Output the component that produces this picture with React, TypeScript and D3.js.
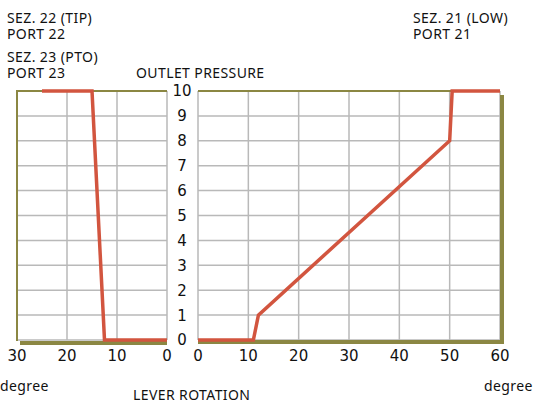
import React from 'react';
import * as d3 from 'd3';

// lever rotation (degree) vs outlet pressure
const leftDegrees = [25, 15, 12.5, 0];
const leftPressure = [10, 10, 0, 0];
const rightDegrees = [0, 11, 12, 50, 50.5, 60];
const rightPressure = [0, 0, 1, 8, 10, 10];

const leftTicks = [30, 20, 10, 0];
const rightTicks = [0, 10, 20, 30, 40, 50, 60];
const pressureTicks = [0, 1, 2, 3, 4, 5, 6, 7, 8, 9, 10];

const W = 537;
const H = 404;

const OLIVE = '#8b8743';
const RED = '#d2553f';
const GRID = '#b9b9b9';
const TEXT_FONT = '"Noto Sans", sans-serif';
const NUM_FONT = '"DejaVu Sans", sans-serif';

export default function App() {
  const y = d3.scaleLinear().domain([0, 10]).range([340, 91]);
  const xL = d3.scaleLinear().domain([30, 0]).range([17, 167]);
  const xR = d3.scaleLinear().domain([0, 60]).range([198, 500]);

  const lineL = d3
    .line<number>()
    .x((d) => xL(d))
    .y((_, i) => y(leftPressure[i]));
  const lineR = d3
    .line<number>()
    .x((d) => xR(d))
    .y((_, i) => y(rightPressure[i]));

  return (
    <svg
      width={W}
      height={H}
      style={{ position: 'absolute', left: 0, top: 0, background: '#fff' }}
    >
      {/* grid */}
      {pressureTicks.map((t) => (
        <g key={'h' + t}>
          <line x1={xL(30)} x2={xL(0)} y1={y(t)} y2={y(t)} stroke={GRID} strokeWidth={1.5} />
          <line x1={xR(0)} x2={xR(60)} y1={y(t)} y2={y(t)} stroke={GRID} strokeWidth={1.5} />
        </g>
      ))}
      {leftTicks.map((t) => (
        <line key={'vl' + t} x1={xL(t)} x2={xL(t)} y1={y(10)} y2={y(0)} stroke={GRID} strokeWidth={1.5} />
      ))}
      {rightTicks.map((t) => (
        <line key={'vr' + t} x1={xR(t)} x2={xR(t)} y1={y(10)} y2={y(0)} stroke={GRID} strokeWidth={1.5} />
      ))}

      {/* frames with shadow */}
      <line x1={xL(30)} x2={xL(30)} y1={y(10) - 1} y2={y(0) + 1} stroke={OLIVE} strokeWidth={2} />
      <line x1={xL(30)} x2={xL(0)} y1={y(10)} y2={y(10)} stroke={OLIVE} strokeWidth={2} />
      <line x1={xL(30) + 3} x2={xL(0)} y1={y(0) + 3} y2={y(0) + 3} stroke={OLIVE} strokeWidth={4} />

      <line x1={xR(0)} x2={xR(60)} y1={y(10)} y2={y(10)} stroke={OLIVE} strokeWidth={2} />
      <line x1={xR(60) + 2} x2={xR(60) + 2} y1={y(10) + 4} y2={y(0) + 4} stroke={OLIVE} strokeWidth={4} />
      <line x1={xR(0)} x2={xR(60) + 4} y1={y(0) + 2} y2={y(0) + 2} stroke={OLIVE} strokeWidth={4} />

      {/* data */}
      <path d={lineL(leftDegrees) || ''} fill="none" stroke={RED} strokeWidth={3.5} />
      <path d={lineR(rightDegrees) || ''} fill="none" stroke={RED} strokeWidth={3.5} />

      {/* pressure labels */}
      {pressureTicks.map((t) => (
        <text
          key={'yl' + t}
          x={182}
          y={y(t)}
          dy="0.36em"
          textAnchor="middle"
          fontFamily={NUM_FONT}
          fontSize={15}
          fill="#111"
        >
          {t}
        </text>
      ))}

      {/* degree labels */}
      {leftTicks.map((t) => (
        <text key={'xl' + t} x={xL(t)} y={361} textAnchor="middle" fontFamily={NUM_FONT} fontSize={15} fill="#111">
          {t}
        </text>
      ))}
      {rightTicks.map((t) => (
        <text key={'xr' + t} x={xR(t)} y={361} textAnchor="middle" fontFamily={NUM_FONT} fontSize={15} fill="#111">
          {t}
        </text>
      ))}

      {/* annotations, two-line labels kept as one text each */}
      <g fontFamily={TEXT_FONT} fontSize={14} letterSpacing={0.4} fill="#111">
        <text x={7} y={23}>
          SEZ. 22 (TIP)
          <tspan x={7} dy={16}>PORT 22</tspan>
        </text>
        <text x={7} y={62}>
          SEZ. 23 (PTO)
          <tspan x={7} dy={16}>PORT 23</tspan>
        </text>
        <text x={136} y={78}>OUTLET PRESSURE</text>
        <text x={413} y={23}>
          SEZ. 21 (LOW)
          <tspan x={413} dy={16}>PORT 21</tspan>
        </text>
        <text x={0} y={391}>degree</text>
        <text x={484} y={391}>degree</text>
        <text x={133} y={400}>LEVER ROTATION</text>
      </g>
    </svg>
  );
}
